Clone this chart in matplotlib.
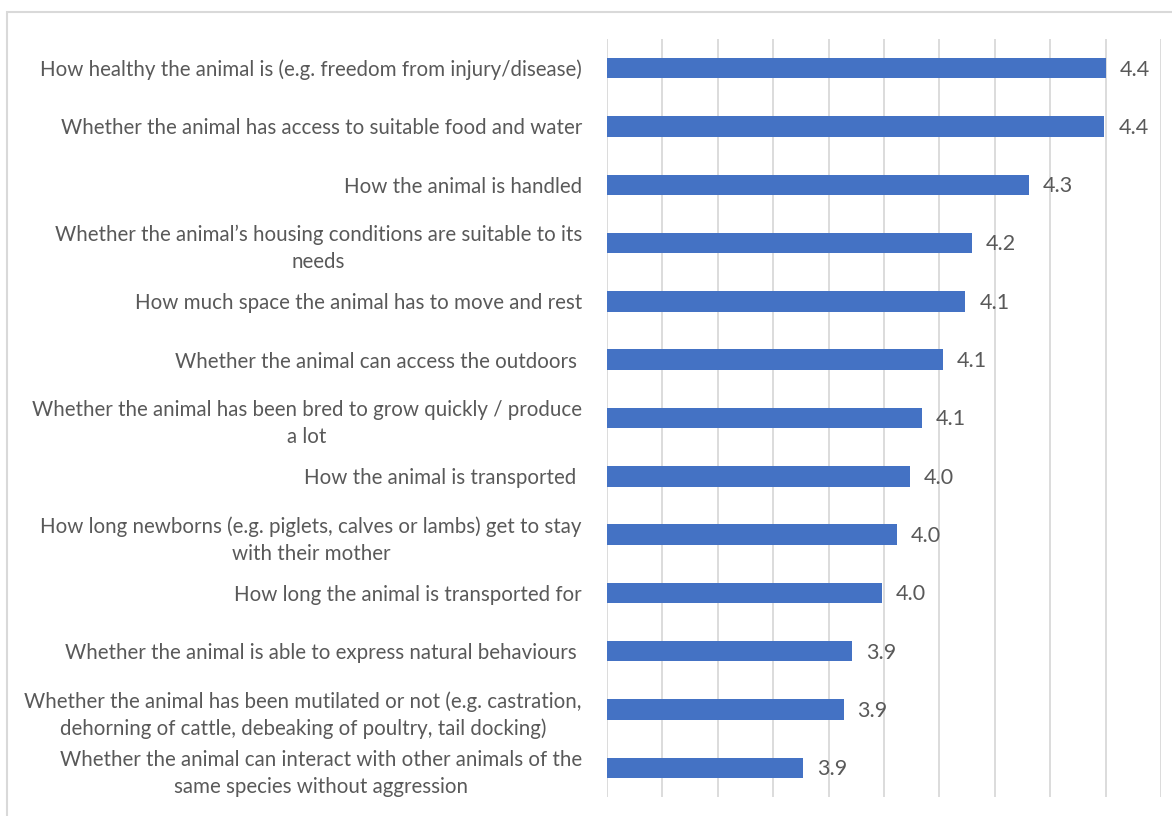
import matplotlib.pyplot as plt
from matplotlib.patches import Rectangle

# mean importance score per welfare aspect (1-5 scale), top to bottom
aspects = [
    "How healthy the animal is (e.g. freedom from injury/disease)",
    "Whether the animal has access to suitable food and water",
    "How the animal is handled",
    "Whether the animal\u2019s housing conditions are suitable to its\nneeds",
    "How much space the animal has to move and rest",
    "Whether the animal can access the outdoors ",
    "Whether the animal has been bred to grow quickly / produce\na lot",
    "How the animal is transported ",
    "How long newborns (e.g. piglets, calves or lambs) get to stay\nwith their mother",
    "How long the animal is transported for",
    "Whether the animal is able to express natural behaviours ",
    "Whether the animal has been mutilated or not (e.g. castration,\ndehorning of cattle, debeaking of poultry, tail docking)",
    "Whether the animal can interact with other animals of the\nsame species without aggression",
]
scores = [4.401, 4.398, 4.262, 4.158, 4.147, 4.107, 4.069,
          4.047, 4.024, 3.997, 3.943, 3.927, 3.854]

x_min, x_max, x_step = 3.5, 4.5, 0.1

plt.rcParams['font.family'] = ['Lato', 'DejaVu Sans']

fig = plt.figure(figsize=(11.72, 8.16), dpi=100)
ax = fig.add_axes([607 / 1172, 1 - 797 / 816, 554 / 1172, 758 / 816])

# chart area outline
fig.patches.append(Rectangle((7 / 1172, -0.05), 1.1, 1 - 12 / 816 + 0.05,
                             transform=fig.transFigure, fill=False,
                             edgecolor='#D9D9D9', linewidth=1.5))

pos = list(range(len(aspects)))
bars = ax.barh(pos, scores, left=0, height=0.35, color='#4472C4', zorder=3)

ax.set_xlim(x_min, x_max)
ax.set_ylim(len(aspects) - 0.5, -0.5)
ticks = [x_min + i * x_step for i in range(11)]
ax.set_xticks(ticks)
ax.set_xticklabels([])
ax.tick_params(axis='x', length=0)
ax.grid(axis='x', color='#D9D9D9', linewidth=1.3, zorder=0)

ax.set_yticks(pos)
ax.set_yticklabels(aspects, fontsize=14.8, color='#595959',
                   multialignment='center', linespacing=1.42)
ax.tick_params(axis='y', length=0, pad=18)

for s in ax.spines.values():
    s.set_visible(False)

for p, v in zip(pos, scores):
    ax.annotate(f"{v:.1f}", xy=(v, p), xytext=(10, -1),
                textcoords='offset points', va='center', ha='left',
                fontsize=15.5, color='#595959')

fig.savefig('out.png', dpi=100)
